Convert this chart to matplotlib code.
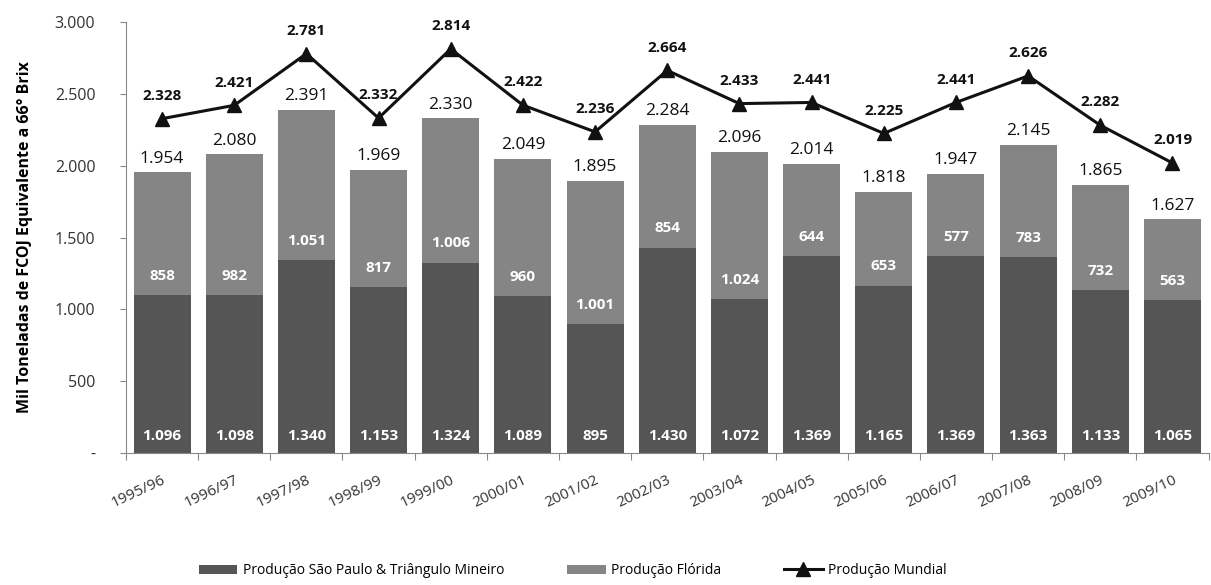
import numpy as np
import matplotlib.pyplot as plt
from matplotlib.ticker import FuncFormatter

safras = ["1995/96", "1996/97", "1997/98", "1998/99", "1999/00", "2000/01", "2001/02",
          "2002/03", "2003/04", "2004/05", "2005/06", "2006/07", "2007/08", "2008/09", "2009/10"]
sao_paulo = [1096, 1098, 1340, 1153, 1324, 1089, 895, 1430, 1072, 1369, 1165, 1369, 1363, 1133, 1065]
florida = [858, 982, 1051, 817, 1006, 960, 1001, 854, 1024, 644, 653, 577, 783, 732, 563]
total = [1954, 2080, 2391, 1969, 2330, 2049, 1895, 2284, 2096, 2014, 1818, 1947, 2145, 1865, 1627]
mundial = [2328, 2421, 2781, 2332, 2814, 2422, 2236, 2664, 2433, 2441, 2225, 2441, 2626, 2282, 2019]

def br(v):
    return f"{v:,.0f}".replace(",", ".")

plt.rcParams['font.family'] = ['Open Sans', 'DejaVu Sans']

fig = plt.figure(figsize=(12.11, 5.85), dpi=100)
ax = fig.add_axes([0.104, 0.226, 0.894, 0.736])

x = np.arange(len(safras))
w = 0.79
c_sp = "#555555"
c_fl = "#858585"

b1 = ax.bar(x, sao_paulo, w, color=c_sp, label="Produção São Paulo & Triângulo Mineiro")
b2 = ax.bar(x, florida, w, bottom=sao_paulo, color=c_fl, label="Produção Flórida")
l1, = ax.plot(x, mundial, color="#111111", lw=2.2, marker="^", ms=10, label="Produção Mundial")

for i in x:
    ax.text(i, 120, br(sao_paulo[i]), ha="center", va="center", color="white",
            fontsize=11, fontweight="bold")
    ax.text(i, sao_paulo[i] + 135, br(florida[i]), ha="center", va="center", color="white",
            fontsize=11, fontweight="bold")
    ax.text(i, total[i] + 40, br(total[i]), ha="center", va="bottom", color="#111111",
            fontsize=12.5)
    ax.text(i, mundial[i] + 110, br(mundial[i]), ha="center", va="bottom", color="#111111",
            fontsize=11, fontweight="bold")

ax.set_xlim(-0.5, len(safras) - 0.5)
ax.set_ylim(0, 3000)
ax.set_yticks(np.arange(0, 3001, 500))
ax.yaxis.set_major_formatter(FuncFormatter(lambda v, p: "-" if v == 0 else br(v)))
ax.set_xticks(np.arange(len(safras) + 1) - 0.5, minor=False)
ax.set_xticklabels([])
ax.set_xticks(x, minor=True)
ax.set_xticklabels(safras, minor=True, rotation=25, ha="right", rotation_mode="anchor",
                   fontsize=11, color="#333333")
ax.tick_params(axis="x", which="minor", length=0, pad=14)
ax.tick_params(axis="x", which="major", length=5, color="#888888")
ax.tick_params(axis="y", length=4, color="#888888", labelsize=11.5, labelcolor="#333333", pad=18)
for s in ["top", "right"]:
    ax.spines[s].set_visible(False)
for s in ["left", "bottom"]:
    ax.spines[s].set_color("#888888")

ax.set_ylabel("Mil Toneladas de FCOJ Equivalente a 66° Brix", fontsize=11.5, fontweight="bold",
              labelpad=16)

fig.legend([b1, b2, l1], [b1.get_label(), b2.get_label(), l1.get_label()],
           loc="lower center", bbox_to_anchor=(0.473, -0.01), ncol=3, frameon=False,
           fontsize=10, handlelength=2.8, columnspacing=4.5, handletextpad=0.4)

fig.savefig("out.png", dpi=100)
